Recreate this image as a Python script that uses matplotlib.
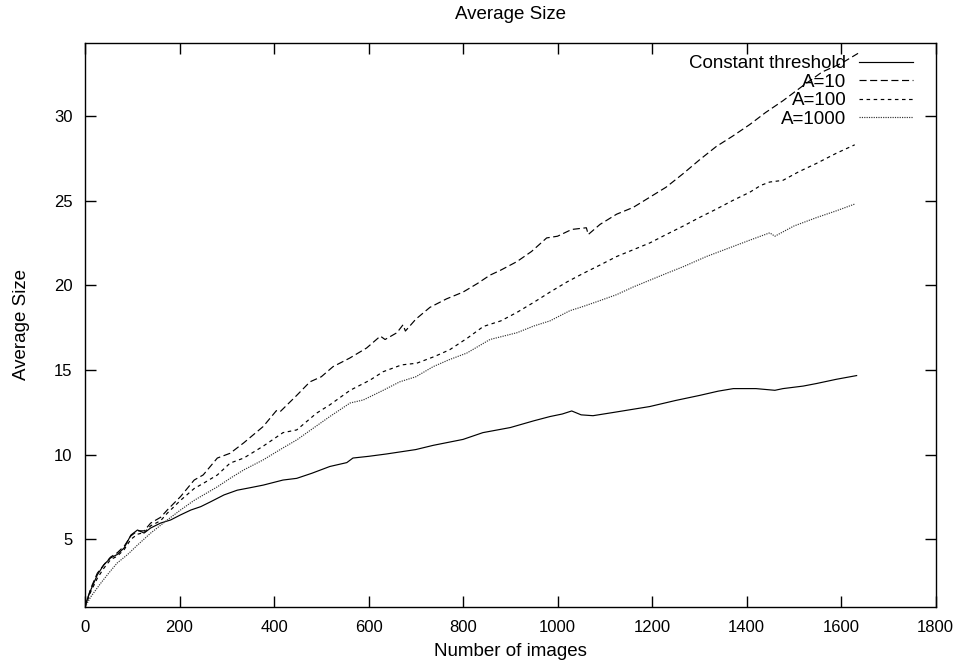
import matplotlib
matplotlib.use("Agg")
import matplotlib.pyplot as plt

plt.rcParams['font.family'] = ['Liberation Sans', 'DejaVu Sans']

# Constant threshold
x_const = [0, 5, 12, 26, 40, 54, 68, 83, 97, 111, 125, 139, 160, 181, 202, 224, 245, 266,
           294, 322, 350, 377, 419, 448, 480, 518, 554, 567, 600, 638, 700, 737, 800, 842,
           900, 950, 984, 1010, 1030, 1050, 1075, 1120, 1195, 1250, 1301, 1340, 1372, 1420,
           1460, 1477, 1520, 1548, 1590, 1633]
y_const = [1.0, 1.5, 2.0, 2.9, 3.5, 3.9, 4.1, 4.5, 5.25, 5.55, 5.37, 5.67, 5.96, 6.14, 6.44,
           6.73, 6.93, 7.22, 7.62, 7.9, 8.05, 8.2, 8.5, 8.6, 8.9, 9.3, 9.53, 9.8, 9.9, 10.04,
           10.3, 10.55, 10.9, 11.3, 11.6, 12.0, 12.25, 12.4, 12.58, 12.35, 12.3, 12.5, 12.84,
           13.2, 13.5, 13.75, 13.9, 13.9, 13.8, 13.9, 14.05, 14.2, 14.45, 14.67]

# A=10
x_a10 = [0, 12, 26, 40, 54, 68, 83, 97, 111, 125, 139, 160, 174, 202, 231, 250, 280, 307,
         336, 377, 405, 413, 448, 476, 500, 525, 560, 596, 625, 635, 660, 673, 678, 700, 730,
         765, 800, 830, 857, 880, 914, 945, 977, 1000, 1030, 1061, 1065, 1090, 1125, 1160,
         1195, 1230, 1266, 1300, 1336, 1370, 1407, 1440, 1477, 1520, 1560, 1600, 1636]
y_a10 = [1.0, 2.1, 3.0, 3.5, 3.95, 4.2, 4.6, 5.2, 5.5, 5.5, 5.96, 6.3, 6.73, 7.52, 8.5, 8.8,
         9.8, 10.08, 10.7, 11.66, 12.6, 12.54, 13.5, 14.3, 14.6, 15.2, 15.7, 16.3, 17.0, 16.8,
         17.2, 17.67, 17.3, 18.0, 18.7, 19.2, 19.6, 20.1, 20.6, 20.9, 21.4, 22.0, 22.8, 22.9,
         23.3, 23.4, 23.0, 23.6, 24.2, 24.6, 25.2, 25.8, 26.6, 27.4, 28.2, 28.8, 29.5, 30.2,
         30.9, 31.8, 32.6, 33.1, 33.7]

# A=100
x_a100 = [0, 12, 26, 40, 54, 68, 83, 97, 111, 125, 139, 160, 174, 202, 231, 250, 280, 307,
          336, 377, 419, 448, 490, 518, 561, 603, 631, 670, 702, 740, 772, 810, 843, 880, 914,
          950, 984, 1020, 1054, 1090, 1125, 1160, 1195, 1230, 1266, 1300, 1336, 1370, 1407,
          1430, 1449, 1477, 1510, 1548, 1590, 1629]
y_a100 = [1.0, 1.9, 2.7, 3.3, 3.8, 4.0, 4.4, 5.0, 5.3, 5.4, 5.8, 6.1, 6.54, 7.3, 8.0, 8.3,
          8.8, 9.5, 9.8, 10.5, 11.3, 11.46, 12.45, 12.94, 13.8, 14.4, 14.9, 15.3, 15.4, 15.8,
          16.2, 16.9, 17.57, 17.9, 18.4, 19.0, 19.6, 20.2, 20.7, 21.2, 21.7, 22.1, 22.5, 23.0,
          23.5, 24.0, 24.5, 25.0, 25.5, 25.9, 26.1, 26.2, 26.7, 27.2, 27.8, 28.3]

# A=1000
x_a1000 = [0, 12, 33, 50, 68, 90, 111, 139, 174, 202, 231, 280, 307, 336, 377, 419, 448, 490,
           518, 561, 589, 631, 666, 700, 737, 770, 808, 857, 914, 950, 984, 1026, 1054, 1090,
           1125, 1160, 1195, 1230, 1266, 1315, 1372, 1410, 1449, 1460, 1500, 1548, 1590, 1629]
y_a1000 = [1.0, 1.6, 2.4, 3.0, 3.6, 4.1, 4.66, 5.37, 6.14, 6.73, 7.3, 8.1, 8.6, 9.1, 9.69,
           10.4, 10.87, 11.7, 12.25, 13.05, 13.23, 13.8, 14.3, 14.6, 15.2, 15.6, 16.0, 16.8,
           17.2, 17.6, 17.9, 18.5, 18.75, 19.1, 19.45, 19.9, 20.3, 20.7, 21.1, 21.7, 22.3,
           22.7, 23.1, 22.9, 23.5, 24.0, 24.4, 24.8]

fig = plt.figure(figsize=(9.61, 6.64), dpi=100)
ax = fig.add_axes([0.0885, 0.0858, 0.885, 0.8499])

ax.plot(x_const, y_const, color='black', linewidth=0.85, label='Constant threshold')
ax.plot(x_a10, y_a10, color='black', linewidth=0.85, linestyle=(0, (6, 3)), label='A=10')
ax.plot(x_a100, y_a100, color='black', linewidth=0.85, linestyle=(0, (3, 3)), label='A=100')
ax.plot(x_a1000, y_a1000, color='#333333', linewidth=0.85, linestyle=(0, (1, 1)), label='A=1000')

ax.set_xlim(0, 1800)
ax.set_ylim(1, 34.33)
ax.set_xticks(range(0, 1801, 200))
ax.set_yticks([5, 10, 15, 20, 25, 30])
ax.tick_params(direction='in', length=8, width=1, top=True, right=True,
               labelsize=12, pad=9)
for s in ax.spines.values():
    s.set_linewidth(1)

ax.set_title('Average Size', fontsize=13.5, pad=17)
ax.set_xlabel('Number of images', fontsize=13.5, labelpad=6)
ax.set_ylabel('Average Size', fontsize=13.5, labelpad=17)

ax.legend(loc='upper right', bbox_to_anchor=(0.9733, 0.9777), frameon=False,
          markerfirst=False, fontsize=13.5, handlelength=2.85, handletextpad=0.7,
          labelspacing=0.07, borderaxespad=0, borderpad=0)

fig.savefig('out.png', dpi=100)
